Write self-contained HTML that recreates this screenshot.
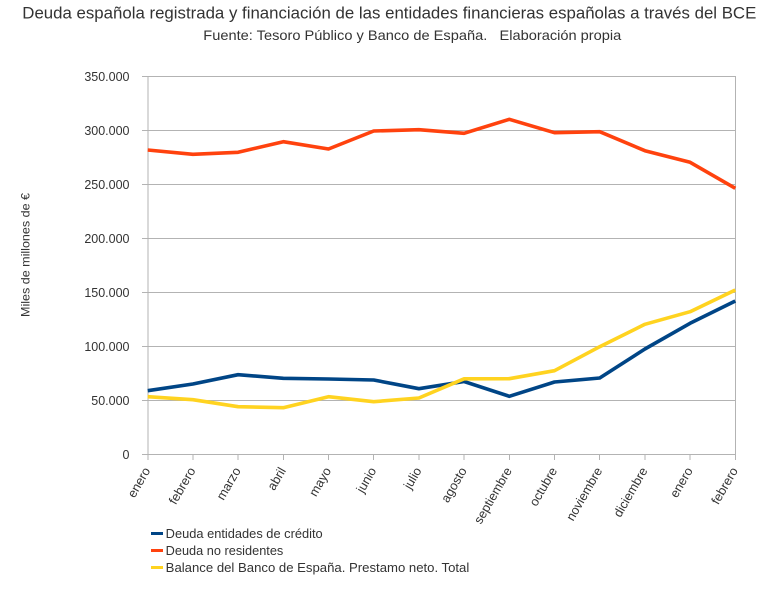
<!DOCTYPE html>
<html><head><meta charset="utf-8"><style>
html,body{margin:0;padding:0;background:#fff;}
svg{display:block;}
text{font-family:"Liberation Sans",Arial,sans-serif;fill:#333;}
</style></head><body>
<svg width="782" height="595" viewBox="0 0 782 595" xmlns="http://www.w3.org/2000/svg">
<text x="22.3" y="18.3" font-size="17" textLength="734" lengthAdjust="spacingAndGlyphs">Deuda española registrada y financiación de las entidades financieras españolas a través del BCE</text>
<text x="203.3" y="40" font-size="14" textLength="418" lengthAdjust="spacingAndGlyphs" xml:space="preserve">Fuente: Tesoro Público y Banco de España.   Elaboración propia</text>

<g stroke="#b3b3b3" stroke-width="1" fill="none">
<line x1="142" y1="76.5" x2="736" y2="76.5"/>
<line x1="142" y1="130.5" x2="736" y2="130.5"/>
<line x1="142" y1="184.5" x2="736" y2="184.5"/>
<line x1="142" y1="238.5" x2="736" y2="238.5"/>
<line x1="142" y1="292.5" x2="736" y2="292.5"/>
<line x1="142" y1="346.5" x2="736" y2="346.5"/>
<line x1="142" y1="400.5" x2="736" y2="400.5"/>
<line x1="142" y1="454.5" x2="736" y2="454.5"/>
<line x1="148" y1="76" x2="148" y2="460"/>
<line x1="735.5" y1="76" x2="735.5" y2="460"/>
<line x1="193" y1="454" x2="193" y2="460"/>
<line x1="238" y1="454" x2="238" y2="460"/>
<line x1="283.5" y1="454" x2="283.5" y2="460"/>
<line x1="328.5" y1="454" x2="328.5" y2="460"/>
<line x1="373.5" y1="454" x2="373.5" y2="460"/>
<line x1="419" y1="454" x2="419" y2="460"/>
<line x1="464" y1="454" x2="464" y2="460"/>
<line x1="509.5" y1="454" x2="509.5" y2="460"/>
<line x1="554.5" y1="454" x2="554.5" y2="460"/>
<line x1="599.5" y1="454" x2="599.5" y2="460"/>
<line x1="645" y1="454" x2="645" y2="460"/>
<line x1="690" y1="454" x2="690" y2="460"/>
</g>

<g font-size="12.5" text-anchor="end">
<text x="129.5" y="80.8">350.000</text>
<text x="129.5" y="134.8">300.000</text>
<text x="129.5" y="188.8">250.000</text>
<text x="129.5" y="242.8">200.000</text>
<text x="129.5" y="296.8">150.000</text>
<text x="129.5" y="350.8">100.000</text>
<text x="129.5" y="404.8">50.000</text>
<text x="129.5" y="458.8">0</text>
</g>

<text transform="translate(29.5,255) rotate(-90)" font-size="12" text-anchor="middle" textLength="124" lengthAdjust="spacingAndGlyphs">Miles de millones de €</text>

<g font-size="12.7" text-anchor="end">
<text transform="translate(150.7,470.5) rotate(-60)">enero</text>
<text transform="translate(195.9,470.5) rotate(-60)">febrero</text>
<text transform="translate(241.1,470.5) rotate(-60)">marzo</text>
<text transform="translate(286.3,470.5) rotate(-60)">abril</text>
<text transform="translate(331.5,470.5) rotate(-60)">mayo</text>
<text transform="translate(376.7,470.5) rotate(-60)">junio</text>
<text transform="translate(421.9,470.5) rotate(-60)">julio</text>
<text transform="translate(467.1,470.5) rotate(-60)">agosto</text>
<text transform="translate(512.3,470.5) rotate(-60)">septiembre</text>
<text transform="translate(557.5,470.5) rotate(-60)">octubre</text>
<text transform="translate(602.7,470.5) rotate(-60)">noviembre</text>
<text transform="translate(647.9,470.5) rotate(-60)">diciembre</text>
<text transform="translate(693.1,470.5) rotate(-60)">enero</text>
<text transform="translate(738.3,470.5) rotate(-60)">febrero</text>
</g>

<g fill="none" stroke-width="3.6" stroke-linejoin="round" stroke-linecap="butt">
<polyline stroke="#004586" points="147.7,390.7 192.9,384 238.1,374.7 283.3,378.3 328.5,379 373.7,380 418.9,388.7 464.1,381.5 509.3,396.3 554.5,382 599.7,378 644.9,349 690.1,323.3 735.3,301"/>
<polyline stroke="#ff420e" points="147.7,150 192.9,154.3 238.1,152.3 283.3,141.7 328.5,149 373.7,131 418.9,129.7 464.1,133.3 509.3,119.3 554.5,132.7 599.7,131.7 644.9,150.7 690.1,162.3 735.3,188.3"/>
<polyline stroke="#ffd320" points="147.7,396.7 192.9,399.7 238.1,406.7 283.3,407.7 328.5,396.7 373.7,401.7 418.9,398 464.1,378.8 509.3,378.7 554.5,370.7 599.7,346.7 644.9,324.3 690.1,311.7 735.3,290"/>
</g>

<g stroke-width="3">
<line x1="151" y1="533.5" x2="163" y2="533.5" stroke="#004586"/>
<line x1="151" y1="550.5" x2="163" y2="550.5" stroke="#ff420e"/>
<line x1="151" y1="567.5" x2="163" y2="567.5" stroke="#ffd320"/>
</g>
<g font-size="12.6">
<text x="165.7" y="538" textLength="157" lengthAdjust="spacingAndGlyphs">Deuda entidades de crédito</text>
<text x="165.7" y="555" textLength="117.6" lengthAdjust="spacingAndGlyphs">Deuda no residentes</text>
<text x="165.7" y="572" textLength="303.6" lengthAdjust="spacingAndGlyphs">Balance del Banco de España. Prestamo neto. Total</text>
</g>
</svg>
</body></html>
